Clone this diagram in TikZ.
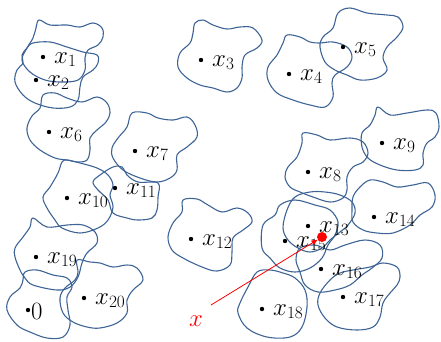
\documentclass[tikz,border=0pt]{standalone}
\usetikzlibrary{arrows.meta}
\definecolor{blobblue}{RGB}{62,100,150}
\begin{document}
\begin{tikzpicture}[x=1pt,y=-1pt,
  blob/.style={draw=blobblue,line width=1.1pt},
  pt/.style={circle,fill=black,inner sep=0pt,minimum size=4.4pt},
  lab/.style={anchor=base west,inner sep=0pt,font=\fontsize{27}{30}\selectfont},
  ]
\useasboundingbox (0,0) rectangle (441,341);
\tikzset{every plot/.style={smooth cycle,tension=0.6}}
% regions around the sample points
\draw[blob] plot coordinates {(39,20)(50,25)(67,25)(80,27)(93,23)(102,28)(103,37)(98,45)(88,50)(85,58)(85,70)(78,80)(62,82)(45,80)(30,72)(22,60)(27,48)(33,38)(36,28)};
\draw[blob] plot coordinates {(33,43)(50,42)(67,47)(83,52)(97,55)(98,63)(93,70)(83,77)(80,87)(78,100)(70,107)(53,108)(35,103)(23,95)(15,82)(17,70)(23,63)(22,55)(27,48)};
\draw[blob] plot coordinates {(195,23)(203,20)(213,25)(227,29)(240,27)(253,28)(262,40)(257,48)(245,55)(242,67)(242,78)(237,88)(227,92)(213,88)(200,85)(187,78)(178,67)(180,53)(190,43)(193,33)};
\draw[blob] plot coordinates {(287,35)(300,37)(310,42)(320,43)(333,42)(347,47)(352,57)(347,67)(335,75)(332,83)(333,97)(325,107)(310,105)(293,100)(277,93)(268,80)(268,67)(277,55)(283,43)};
\draw[blob] plot coordinates {(320,47)(323,37)(333,28)(338,13)(350,8)(367,13)(387,15)(398,17)(403,27)(397,37)(387,47)(383,58)(387,70)(377,78)(360,80)(347,75)(335,70)(325,62)};
\draw[blob] plot coordinates {(43,95)(55,93)(67,98)(82,102)(97,97)(107,103)(110,113)(106,122)(97,130)(90,138)(90,150)(87,160)(78,162)(67,160)(55,158)(40,150)(30,140)(27,128)(32,116)(40,108)};
\draw[blob] plot coordinates {(132,113)(147,113)(158,118)(173,120)(187,117)(195,125)(197,137)(187,147)(177,155)(177,170)(170,178)(157,182)(140,178)(123,170)(113,158)(112,148)(118,138)(127,127)};
\draw[blob] plot coordinates {(100,175)(113,167)(122,167)(127,175)(138,182)(158,183)(158,197)(157,210)(152,218)(138,220)(127,218)(113,213)(108,200)(98,190)(93,182)};
\draw[blob] plot coordinates {(62,162)(67,160)(80,163)(97,168)(108,175)(113,185)(110,195)(113,207)(108,220)(98,228)(80,233)(62,228)(55,220)(47,208)(43,197)(50,187)(58,173)};
\draw[blob] plot coordinates {(33,218)(47,227)(67,225)(83,225)(95,232)(97,243)(87,253)(82,263)(78,277)(70,287)(57,290)(33,285)(25,278)(20,270)(15,257)(15,248)(23,237)(30,227)};
\draw[blob] plot coordinates {(25,272)(37,270)(53,275)(67,278)(72,287)(67,297)(68,310)(70,325)(63,337)(47,338)(30,332)(17,325)(7,310)(10,297)(20,288)(23,280)};
\draw[blob] plot coordinates {(77,260)(90,262)(100,263)(113,267)(127,265)(137,268)(143,280)(133,290)(127,300)(127,313)(117,323)(100,328)(87,327)(73,322)(63,313)(60,298)(65,288)(75,280)(78,272)};
\draw[blob] plot coordinates {(183,200)(197,199)(208,205)(222,212)(237,208)(248,213)(252,222)(243,230)(233,238)(232,252)(230,265)(217,271)(202,267)(183,258)(172,250)(168,237)(173,223)(182,212)};
\draw[blob] plot coordinates {(378,107)(390,115)(407,113)(427,110)(436,113)(439,127)(435,137)(427,143)(423,153)(423,165)(415,170)(397,170)(380,165)(368,158)(362,147)(362,133)(370,125)(375,115)};
\draw[blob] plot coordinates {(303,133)(317,135)(330,140)(350,138)(363,142)(368,153)(363,162)(353,167)(347,177)(347,190)(343,198)(330,202)(313,197)(300,192)(290,187)(285,177)(288,167)(297,157)(302,143)};
\draw[blob] plot coordinates {(370,180)(383,182)(397,187)(413,185)(428,183)(435,195)(432,207)(420,215)(410,225)(393,233)(377,233)(363,230)(353,222)(352,210)(353,197)(360,187)};
\draw[blob] plot coordinates {(295,197)(310,192)(325,192)(340,195)(352,202)(355,213)(348,225)(340,232)(330,240)(322,248)(310,252)(298,248)(288,240)(283,228)(287,210)};
\draw[blob] plot coordinates {(263,225)(275,215)(280,205)(295,200)(315,205)(330,210)(338,222)(335,235)(328,245)(322,258)(310,268)(295,272)(280,268)(270,258)(262,248)};
\draw[blob] plot coordinates {(300,248)(315,245)(330,250)(345,245)(365,240)(380,245)(382,258)(372,268)(362,275)(350,285)(335,290)(318,292)(305,285)(300,272)(296,260)};
\draw[blob] plot coordinates {(320,293)(330,280)(340,273)(353,270)(370,267)(383,263)(397,267)(400,277)(397,285)(390,293)(383,303)(380,317)(373,327)(357,330)(337,327)(325,318)(318,305)};
\draw[blob] plot coordinates {(240,303)(248,287)(257,272)(270,270)(283,273)(295,278)(305,290)(307,307)(302,327)(290,337)(267,337)(247,328)(238,313)};
% sample points and their labels
\foreach \n/\px/\py in {1/43/57,2/36/80,3/201/60,4/289/74,5/343/47,6/49/132,7/135/151,8/308/172,9/382/143,10/67/198,11/115/188,12/191/239,13/308/226,14/374/217,15/285/241,16/321/269,17/343/297,18/262/309,19/36/257,20/84/298}{
  \node[pt] (d\n) at (\px,\py) {};
  \node[lab] (l\n) at (\px+11,\py+6) {$x_{\n}$};
}
\node[pt] (d0) at (28,310) {};
\node[lab] (l0) at (31,319) {$0$};
% query point and its arrow
\node[circle,fill=red,inner sep=0pt,minimum size=10pt] (q) at (322,237) {};
\node[lab,text=red] (xq) at (189,326) {$x$};
\coordinate (qs) at (211,305);
\draw[red,line width=0.8pt,-{Triangle[length=6pt,width=5pt]}] (qs) -- (q);
\end{tikzpicture}
\end{document}
